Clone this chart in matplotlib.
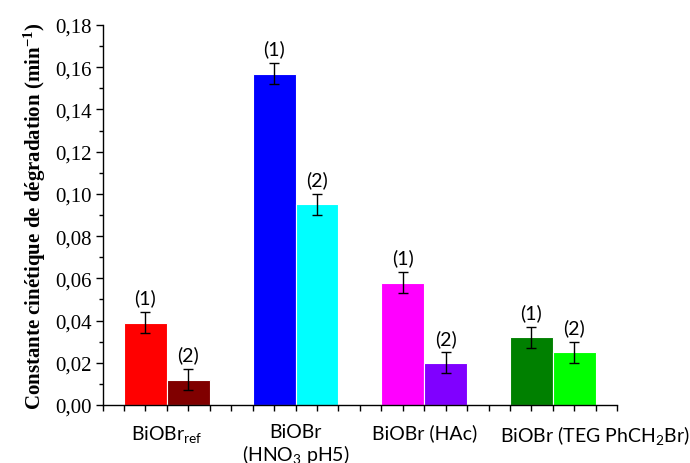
import numpy as np
import matplotlib
matplotlib.use("Agg")
import matplotlib.pyplot as plt
import matplotlib.transforms as mtransforms
from matplotlib.ticker import MultipleLocator

# data
groups = ["BiOBr$_{\\mathregular{ref}}$",
          "BiOBr\n(HNO$_{\\mathregular{3}}$ pH5)",
          "BiOBr (HAc)",
          "BiOBr (TEG PhCH$_{\\mathregular{2}}$Br)"]
k1 = [0.039, 0.157, 0.058, 0.032]
k2 = [0.012, 0.095, 0.020, 0.025]
err1 = [0.005, 0.005, 0.005, 0.005]
err2 = [0.005, 0.005, 0.005, 0.005]
col1 = ["#ff0000", "#0000ff", "#ff00ff", "#008000"]
col2 = ["#800000", "#00ffff", "#8000ff", "#00ff00"]

plt.rcParams["mathtext.default"] = "regular"
label_font = ["Lato", "DejaVu Sans"]

fig = plt.figure(figsize=(6.9, 4.64), dpi=100)
ax = fig.add_axes([0.1486, 0.125, 0.746, 0.819])

x = np.arange(1, len(groups) + 1)
w = 1 / 3
ax.bar(x - w / 2, k1, w, color=col1, edgecolor="white", linewidth=0.8)
ax.bar(x + w / 2, k2, w, color=col2, edgecolor="white", linewidth=0.8)
ax.errorbar(x - w / 2, k1, yerr=err1, fmt="none", ecolor="black",
            elinewidth=1, capsize=3.5, capthick=1)
ax.errorbar(x + w / 2, k2, yerr=err2, fmt="none", ecolor="black",
            elinewidth=1, capsize=3.5, capthick=1)

for xi, v, e in zip(x - w / 2, k1, err1):
    ax.annotate("(1)", (xi, v + e), xytext=(0, 4), textcoords="offset points",
                ha="center", va="bottom", fontsize=14, family=label_font)
for xi, v, e in zip(x + w / 2, k2, err2):
    ax.annotate("(2)", (xi, v + e), xytext=(0, 4), textcoords="offset points",
                ha="center", va="bottom", fontsize=14, family=label_font)

ax.set_xlim(0.5, 4.5)
ax.set_ylim(0, 0.18)
ax.set_xticks(x)
ax.set_xticklabels(groups[:-1] + [""], fontsize=14, family=label_font, linespacing=1.1)
# last label sits to the right of its group in the original
trans = mtransforms.blended_transform_factory(ax.transData, ax.transAxes)
trans = trans + mtransforms.ScaledTranslation(0, -13 / 72, fig.dpi_scale_trans)
ax.text(x[-1] + 0.33, 0, groups[-1], transform=trans, ha="center", va="top",
        fontsize=14, family=label_font)
ax.xaxis.set_minor_locator(MultipleLocator(1 / 6))
ax.yaxis.set_major_locator(MultipleLocator(0.02))
ax.yaxis.set_minor_locator(MultipleLocator(0.01))
ax.yaxis.set_major_formatter(plt.FuncFormatter(lambda v, p: f"{v:.2f}".replace(".", ",")))
for t in ax.get_yticklabels():
    t.set_family("Liberation Serif")
    t.set_fontsize(15)

ax.tick_params(axis="x", which="both", direction="out", length=4, width=1, pad=9)
ax.tick_params(axis="y", which="major", direction="out", length=5, width=1, pad=3)
ax.tick_params(axis="y", which="minor", direction="out", length=3, width=1)
ax.spines["top"].set_visible(False)
ax.spines["right"].set_visible(False)
ax.spines["left"].set_linewidth(1)
ax.spines["bottom"].set_linewidth(1)

ax.set_ylabel("Constante cinétique de dégradation (min$^{\\mathregular{-1}}$)",
              family="Liberation Serif", fontweight="bold", fontsize=15, labelpad=5)

fig.savefig("out.png", dpi=100)
